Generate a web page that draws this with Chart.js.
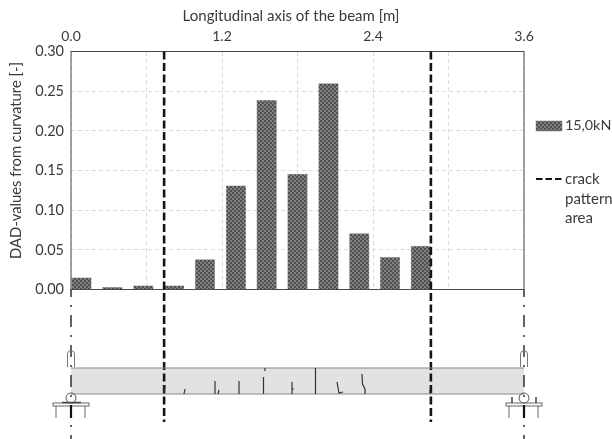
<!DOCTYPE html>
<html><head><meta charset="utf-8">
<style>html,body{margin:0;padding:0;background:#fff}#w{width:612px;height:439px;position:relative}</style>
<script src="https://cdn.jsdelivr.net/npm/chart.js@4/dist/chart.umd.js"></script>
</head><body><div id="w"><canvas id="c" width="612" height="439"></canvas></div>
<script>
const positions=[0.083,0.329,0.575,0.82,1.065,1.311,1.555,1.80,2.046,2.291,2.535,2.78];
const dadValues=[0.015,0.003,0.005,0.005,0.038,0.131,0.239,0.146,0.260,0.071,0.041,0.055];
const crackBounds=[0.74,2.86];
const beamEnds=[0,3.6];
const seriesName='15,0kN';
const crackLegend=['crack','pattern','area'];
const xTitle='Longitudinal axis of the beam [m]';
const yTitle='DAD-values from curvature [-]';
const FONT='Lato, Carlito, sans-serif';
const TXT='#3a3a3a';

function hatch(){
  const p=document.createElement('canvas');p.width=4;p.height=4;
  const g=p.getContext('2d');
  g.fillStyle='#808080';g.fillRect(0,0,4,4);
  g.fillStyle='#505050';g.fillRect(0,0,2,2);g.fillRect(2,2,2,2);
  return document.createElement('canvas').getContext('2d').createPattern(p,'repeat');
}
const fillPat=hatch();

const scene={id:'scene',
 beforeDatasetsDraw(ch){
  const c=ch.ctx,a=ch.chartArea;
  c.save();c.strokeStyle='#4a4a4a';c.lineWidth=1;
  c.strokeRect(a.left,a.top,a.right-a.left,a.bottom-a.top);c.restore();
 },
 afterDraw(ch){
  const c=ch.ctx,x=ch.scales.x;
  c.save();
  c.fillStyle=TXT;c.font='15px '+FONT;c.textBaseline='middle';c.textAlign='center';
  c.fillText(xTitle,291,16);
  c.save();c.translate(16,160.5);c.rotate(-Math.PI/2);c.font='14.8px '+FONT;c.fillText(yTitle,0,0);c.restore();
  // legend
  c.textAlign='left';c.font='14.3px '+FONT;
  c.fillStyle=fillPat;c.fillRect(536,121,26,10);
  c.strokeStyle='#777';c.lineWidth=.5;c.strokeRect(536,121,26,10);
  c.fillStyle=TXT;c.fillText(seriesName,565,125.5);
  c.font='15px '+FONT;
  c.strokeStyle='#111';c.lineWidth=2;c.setLineDash([6.5,3]);
  c.beginPath();c.moveTo(536,179);c.lineTo(562,179);c.stroke();c.setLineDash([]);
  crackLegend.forEach((t,i)=>c.fillText(t,565,179.5+i*19.5));
  // beam
  const L=x.getPixelForValue(beamEnds[0]),R=x.getPixelForValue(beamEnds[1]);
  c.globalCompositeOperation='destination-over';
  c.fillStyle='#e1e2e4';c.fillRect(L,368,R-L,26);
  c.globalCompositeOperation='source-over';
  c.strokeStyle='#8a8a8a';c.lineWidth=1.2;
  c.beginPath();c.moveTo(L,368);c.lineTo(R,368);c.moveTo(L,394);c.lineTo(R,394);c.stroke();
  // cracks (px from reference)
  c.strokeStyle='#333';c.lineWidth=1.2;
  const cr=[[[165,385],[164,394]],[[185,389],[184,394]],[[215,381],[215,394]],[[219,390],[218,394]],
   [[239,381],[239,394]],[[263.5,377],[263.5,394]],[[292,382],[292,394],[292,389],[294,389]],[[265,368],[265,371]],
   [[315.5,368],[315.5,394]],[[337,382],[339,393],[343,392]],[[362,374],[362.5,384],[365,389],[365,394]],[[430,390],[430,394]]];
  cr.forEach(s=>{c.beginPath();s.forEach((p,i)=>i?c.lineTo(p[0],p[1]):c.moveTo(p[0],p[1]));c.stroke();});
  // supports
  [L,R].forEach((X,i)=>{
   c.strokeStyle='#777';c.lineWidth=1;
   c.beginPath();c.moveTo(X-3.5,367);c.lineTo(X-3.5,354);c.arc(X,354,3.5,Math.PI,0);c.lineTo(X+3.5,367);c.stroke();
   c.strokeStyle='#555';c.lineWidth=1;
   c.beginPath();c.arc(X,398,5,0,Math.PI*2);c.stroke();
   c.strokeStyle='#666';
   c.strokeRect(X-18,403,36,3);
   c.beginPath();c.moveTo(X-15,406);c.lineTo(X-15,418);c.moveTo(X+14,406);c.lineTo(X+14,418);c.stroke();
   c.strokeStyle='#444';c.lineWidth=1.5;
   c.beginPath();
   if(i==0){c.moveTo(X-9,402.5);c.lineTo(X+10,402.5);}
   else{c.moveTo(X-12,403);c.lineTo(X-12,397);c.moveTo(X+12,403);c.lineTo(X+12,397);}
   c.stroke();
   c.strokeStyle='#111';c.lineWidth=2.2;
   c.beginPath();c.moveTo(X,405);c.lineTo(X,418);c.stroke();
  });
  c.restore();
 }};

const vline=(xv,yLo,dash,w,col)=>({type:'line',data:[{x:xv,y:0.30},{x:xv,y:yLo}],borderColor:col,borderWidth:w,borderDash:dash,pointRadius:0,clip:false,order:0,fill:false,tension:0});
const centre=(xv)=>({type:'line',data:[{x:xv,y:0},{x:xv,y:-0.1885}],borderColor:'#222',borderWidth:1.4,borderDash:[12,8,2,8],borderDashOffset:4.5,pointRadius:0,clip:false,order:0,fill:false});

new Chart(document.getElementById('c'),{
 type:'bar',
 data:{datasets:[
  {type:'bar',label:seriesName,data:positions.map((p,i)=>({x:p,y:dadValues[i]})),backgroundColor:fillPat,borderColor:'#777',borderWidth:.5,barPercentage:.66,categoryPercentage:1,order:1},
  ...crackBounds.map(v=>vline(v,-0.167,[8,3.5],2.6,'#151515')),
  ...beamEnds.map(centre)
 ]},
 options:{responsive:false,animation:false,
  layout:{padding:{left:0,right:88,top:0,bottom:149.5}},
  plugins:{legend:{display:false},tooltip:{enabled:false},title:{display:false}},
  scales:{
   x:{type:'linear',position:'top',min:0,max:3.6,offset:false,
    afterFit(s){s.height=51.5;},
    border:{display:false,dash:[4,3]},
    grid:{offset:false,color:'#dcdcdc',lineWidth:1,drawTicks:false,drawOnChartArea:true},
    ticks:{stepSize:0.6,autoSkip:false,maxRotation:0,padding:7,color:TXT,font:{family:FONT,size:14},
     callback:(v)=>Math.abs((v/1.2)-Math.round(v/1.2))<1e-6?v.toFixed(1):''}},
   y:{type:'linear',min:0,max:0.30,
    afterFit(s){s.width=71;},
    border:{display:false,dash:[4,3]},
    grid:{color:'#dcdcdc',lineWidth:1,drawTicks:false},
    ticks:{stepSize:0.05,padding:7,color:TXT,font:{family:FONT,size:14.5},callback:v=>v.toFixed(2)}}
  }
 },
 plugins:[scene]
});
</script></body></html>
